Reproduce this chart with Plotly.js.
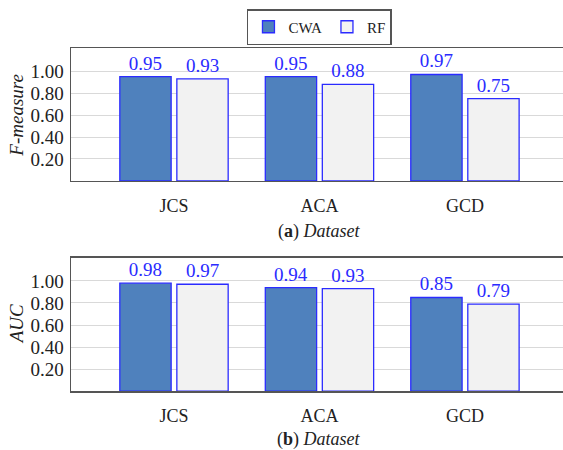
<!DOCTYPE html>
<html><head><meta charset="utf-8">
<script src="https://cdn.plot.ly/plotly-3.0.1.min.js"></script>
<style>html,body{margin:0;padding:0;background:#fff;}#c{width:563px;height:450px;}</style>
</head><body><div id="c"></div>
<script>
const categories = ["JCS", "ACA", "GCD"];
const fCWA = [0.95, 0.95, 0.97];
const fRF  = [0.93, 0.88, 0.75];
const aucCWA = [0.98, 0.94, 0.85];
const aucRF  = [0.97, 0.93, 0.79];
const yTicks = [0.2, 0.4, 0.6, 0.8, 1.0];
const yTickText = ["0.20", "0.40", "0.60", "0.80", "1.00"];

const serif = "Liberation Serif";
const edge = "#2b2bff";
const cwaFill = "#4f81bd";
const rfFill = "#f2f2f2";

function bar(y, name, fill, xa, ya, show) {
  return {
    type: "bar", x: categories, y: y, name: name, xaxis: xa, yaxis: ya,
    marker: {color: fill, line: {color: edge, width: 1.3}},
    texttemplate: "%{y:.2f}", textposition: "outside",
    textfont: {family: serif, size: 19, color: "#2b2bff"},
    cliponaxis: false, showlegend: show, hoverinfo: "skip"
  };
}

const data = [
  bar(fCWA, "CWA", cwaFill, "x", "y", true),
  bar(fRF, "RF", rfFill, "x", "y", true),
  bar(aucCWA, "CWA", cwaFill, "x2", "y2", false),
  bar(aucRF, "RF", rfFill, "x2", "y2", false)
];

const yax = (dom) => ({
  domain: dom, range: [0, 1.21], tickvals: yTicks, ticktext: yTickText,
  showgrid: true, gridcolor: "#d9d9d9", gridwidth: 1,
  showline: true, linecolor: "#555", linewidth: 1.5, zeroline: false,
  ticks: "", ticklabelstandoff: 2,
  tickfont: {family: serif, size: 19, color: "#222"}, fixedrange: true
});
const xax = (anchor) => ({
  anchor: anchor, range: [-0.708, 2.674], domain: [0, 1],
  showline: true, mirror: true, linecolor: "#555", linewidth: 1.5,
  ticks: "", ticklabelstandoff: 8,
  tickfont: {family: serif, size: 18, color: "#222"}, fixedrange: true
});

const layout = {
  width: 563, height: 450,
  margin: {l: 71, r: 0, t: 0, b: 0},
  paper_bgcolor: "#fff", plot_bgcolor: "#fff",
  barmode: "group", bargap: 0.216, bargroupgap: 0.1,
  font: {family: serif, color: "#222"},
  xaxis: xax("y"), yaxis: yax([0.598, 0.893]),
  xaxis2: xax("y2"), yaxis2: yax([0.131, 0.427]),
  showlegend: true,
  legend: {orientation: "h", x: 0.505, xanchor: "center", y: 0.98, yanchor: "top",
    bordercolor: "#555", borderwidth: 1.5, font: {family: serif, size: 15, color: "#222"},
    itemwidth: 30, tracegroupgap: 0},
  annotations: [
    {text: "<i>F-measure</i>", textangle: -90, xref: "paper", yref: "paper",
     x: -0.11, y: 0.745, xanchor: "center", yanchor: "middle", showarrow: false,
     font: {family: serif, size: 19, color: "#222"}},
    {text: "<i>AUC</i>", textangle: -90, xref: "paper", yref: "paper",
     x: -0.11, y: 0.279, xanchor: "center", yanchor: "middle", showarrow: false,
     font: {family: serif, size: 19, color: "#222"}},
    {text: "(<b>a</b>) <i>Dataset</i>", xref: "paper", yref: "paper",
     x: 0.505, y: (450 - 231) / 450, xanchor: "center", yanchor: "middle", showarrow: false,
     font: {family: serif, size: 18, color: "#222"}},
    {text: "(<b>b</b>) <i>Dataset</i>", xref: "paper", yref: "paper",
     x: 0.505, y: (450 - 439) / 450, xanchor: "center", yanchor: "middle", showarrow: false,
     font: {family: serif, size: 18, color: "#222"}}
  ]
};

Plotly.newPlot("c", data, layout, {displayModeBar: false, staticPlot: true});
</script></body></html>
